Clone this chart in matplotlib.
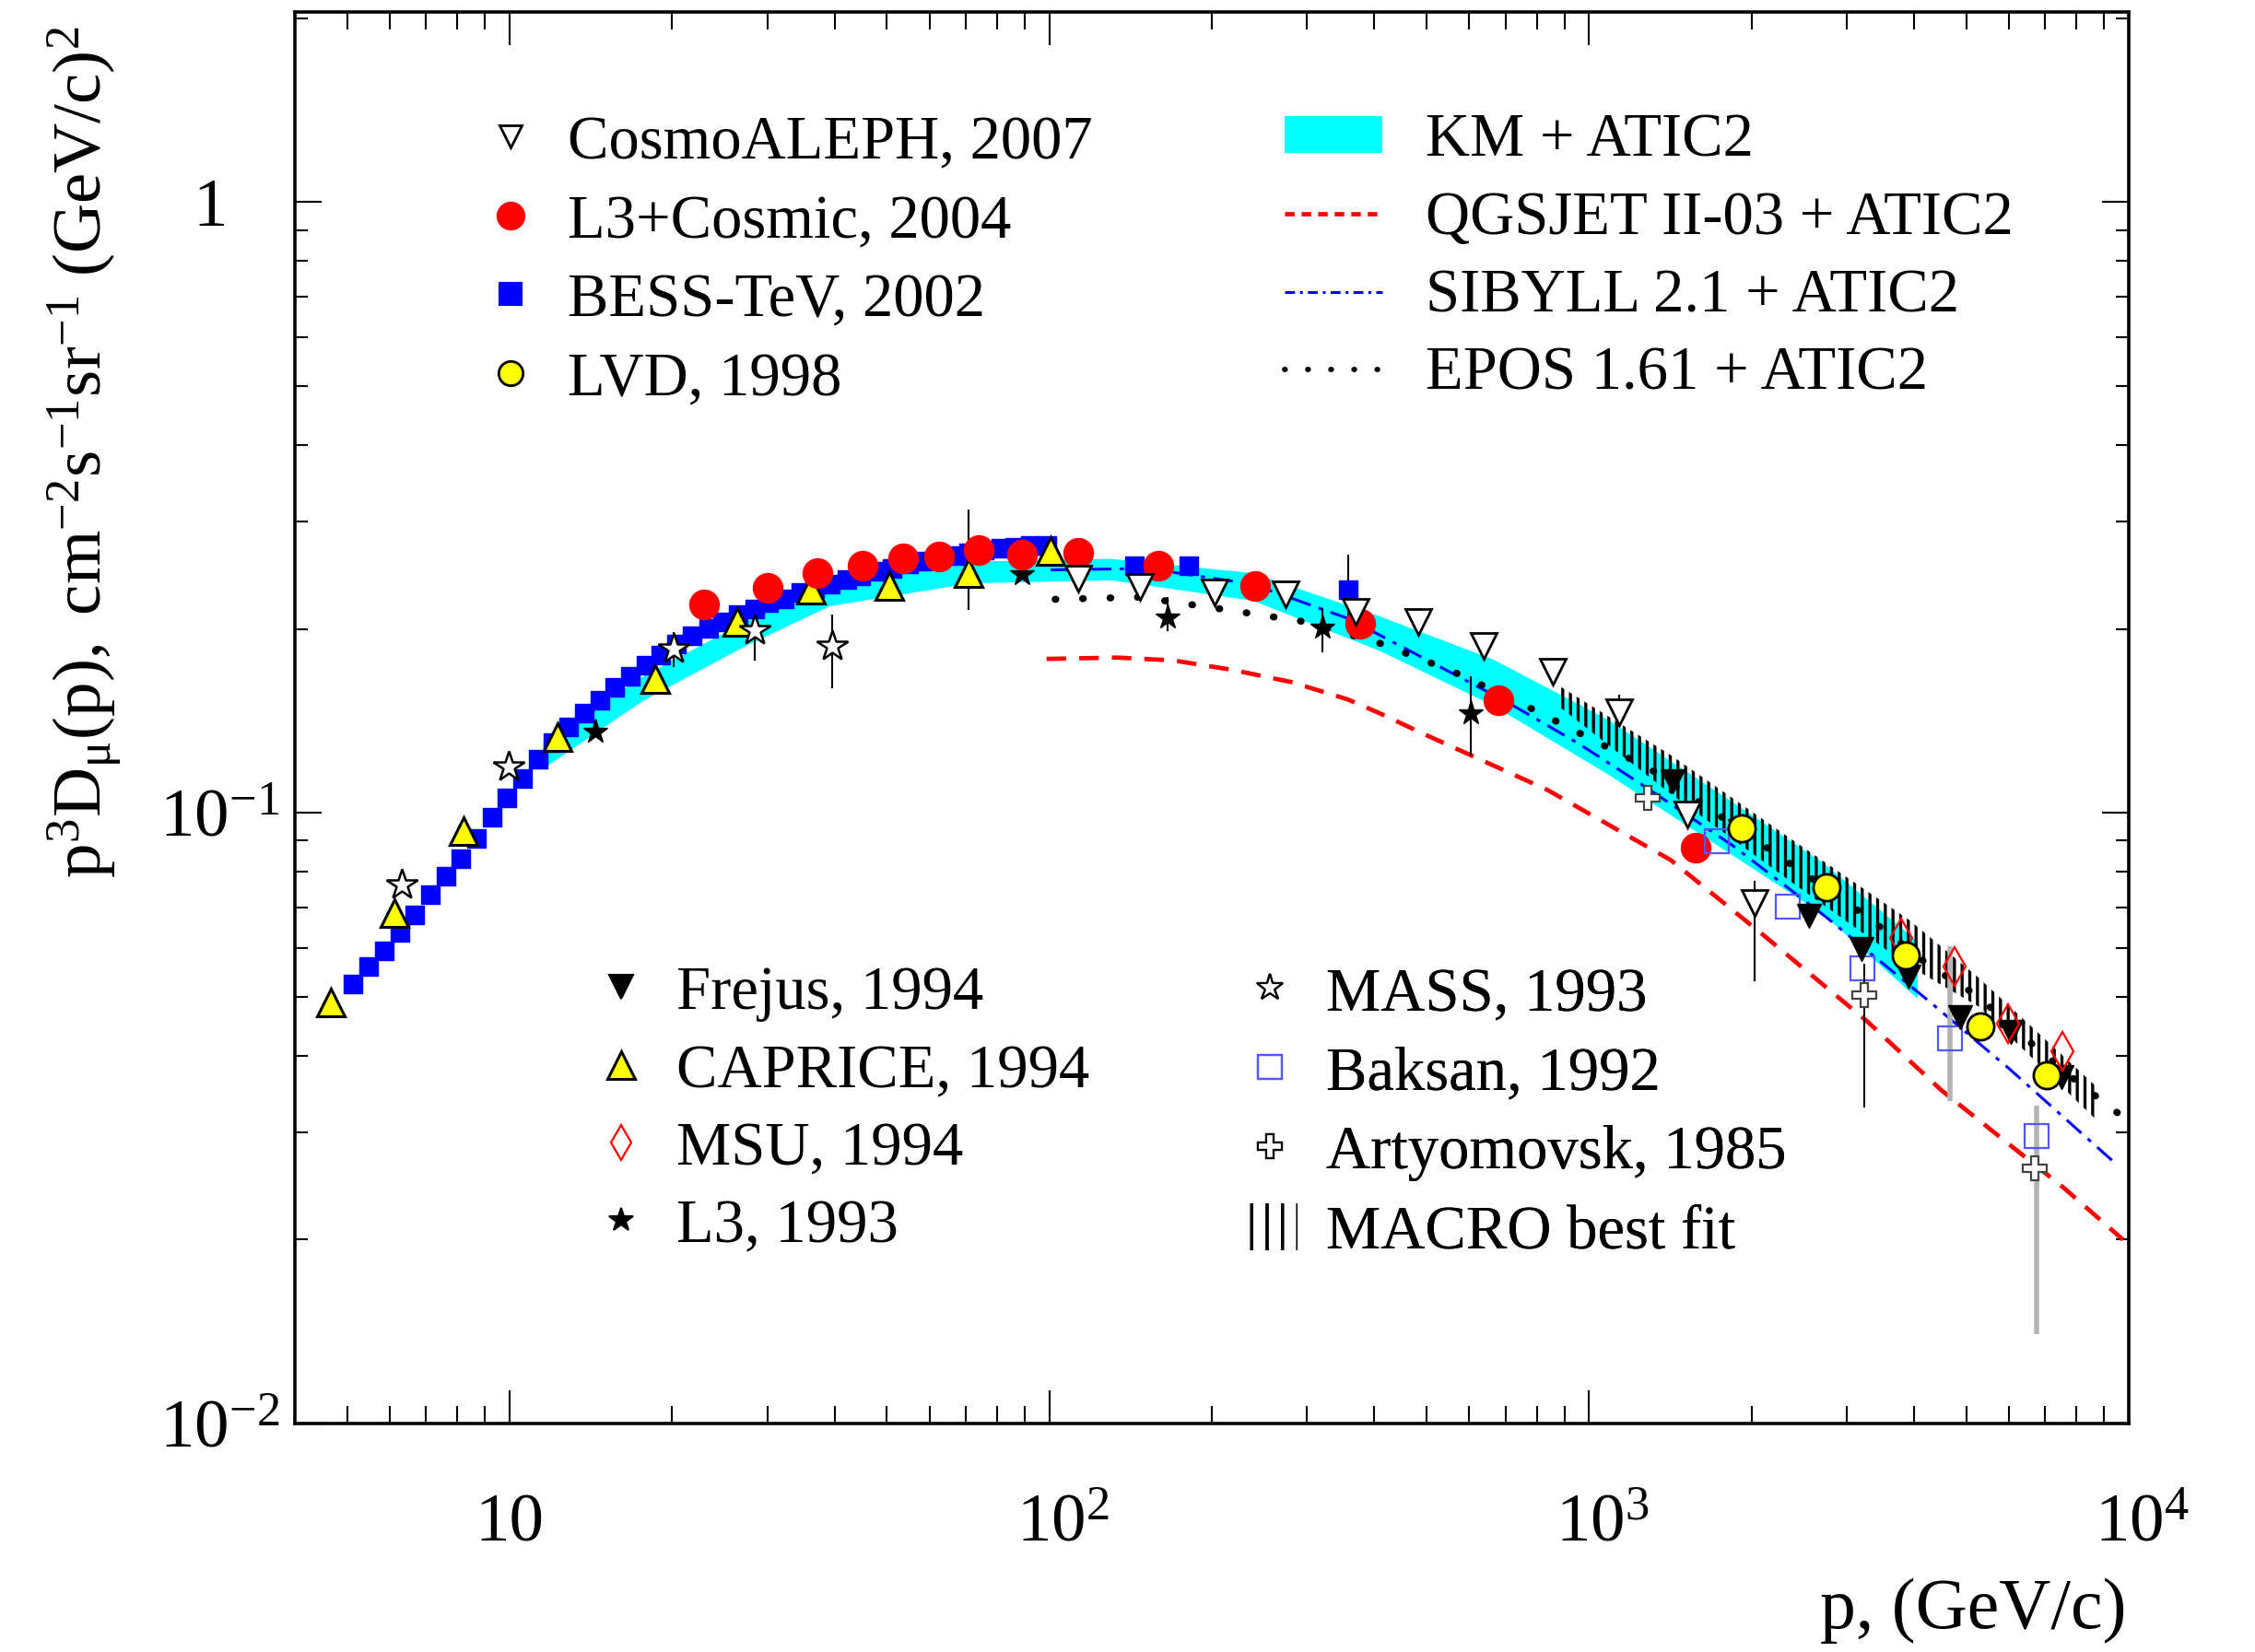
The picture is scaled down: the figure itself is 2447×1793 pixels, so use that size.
import matplotlib
matplotlib.use("Agg")
import matplotlib.pyplot as plt
from matplotlib.lines import Line2D
from matplotlib.patches import Patch
from matplotlib.ticker import FixedLocator, LogLocator, NullFormatter
import matplotlib.transforms as mtrans

plt.rcParams['font.family'] = ['Liberation Serif', 'DejaVu Serif']
plt.rcParams['mathtext.fontset'] = 'custom'
plt.rcParams['mathtext.rm'] = 'Liberation Serif'
plt.rcParams['mathtext.it'] = 'Liberation Serif:italic'
plt.rcParams['mathtext.default'] = 'regular'
plt.rcParams['hatch.linewidth'] = 2.4

# ---- data (p in GeV/c, p^3 D(p) in cm^-2 s^-1 sr^-1 (GeV/c)^2) ----
bess_p = [5.12, 5.48, 5.86, 6.27, 6.67, 7.14, 7.63, 8.12, 8.68, 9.29, 9.88, 10.57, 11.31, 12.02,
          12.86, 13.76, 14.72, 15.66, 16.75, 17.92, 19.05, 20.39, 21.81, 23.33, 24.81, 26.55,
          28.40, 30.20, 32.30, 34.56, 36.74, 39.33, 42.07, 44.73, 47.86, 51.20, 54.79, 58.25,
          62.34, 66.68, 70.9, 75.86, 81.16, 86.3, 92.3, 98.8, 143.7, 181.4, 357.6]
bess_v = [0.0525, 0.0560, 0.0594, 0.0638, 0.0681, 0.0734, 0.0788, 0.0841, 0.0907, 0.0984,
          0.1056, 0.1139, 0.1222, 0.1304, 0.1384, 0.1454, 0.1526, 0.1602, 0.1673, 0.1747,
          0.1815, 0.1886, 0.1948, 0.2001, 0.2056, 0.2112, 0.2158, 0.2206, 0.2242, 0.2291,
          0.2329, 0.2367, 0.2406, 0.2445, 0.2485, 0.2512, 0.2553, 0.2581, 0.2609, 0.2637,
          0.2666, 0.2695, 0.2710, 0.2724, 0.2739, 0.2739, 0.2539, 0.2539, 0.2315]

l3c_p = [22.9, 30.0, 37.2, 45.0, 53.5, 62.5, 74.0, 89.0, 113, 159.5, 240.6, 376.7, 679, 1575]
l3c_v = [0.2193, 0.2336, 0.2465, 0.2539, 0.2609, 0.2623, 0.2689, 0.2645, 0.2660, 0.2540,
         0.2353, 0.2038, 0.1526, 0.0876]

caprice_p = [4.67, 6.12, 8.22, 12.24, 18.6, 26.4, 36.1, 50.6, 70.9, 100.6]
caprice_v = [0.0489, 0.0684, 0.0932, 0.1332, 0.1655, 0.2055, 0.2316, 0.2354, 0.2472, 0.2681]
caprice_lo = [0, 0, 0, 0, 0, 0, 0, 0, 0.0325, 0]
caprice_hi = [0, 0, 0, 0, 0, 0, 0, 0, 0.0660, 0]

aleph_p = [113.0, 147.2, 202.6, 273.7, 369.8, 481.6, 638.8, 857.8, 1138, 1518, 2026]
aleph_v = [0.2418, 0.2340, 0.2291, 0.2278, 0.2135, 0.2050, 0.1879, 0.1703, 0.1461, 0.0992, 0.0711]
aleph_lo = [0, 0, 0, 0, 0, 0, 0, 0.006, 0.008, 0.004, 0.0181]
aleph_hi = [0, 0, 0, 0, 0, 0, 0, 0.008, 0.010, 0.004, 0.0064]

lvd_p = [1917, 2754, 3861, 5314, 7047]
lvd_v = [0.0944, 0.0754, 0.0583, 0.0447, 0.0372]

frejus_p = [1428, 1905, 2559, 3192, 3908, 4875, 6043, 7493]
frejus_v = [0.1126, 0.0932, 0.0679, 0.0598, 0.0539, 0.0463, 0.0437, 0.0369]

msu_p = [3791, 4757, 5970, 7539]
msu_v = [0.0624, 0.0560, 0.0451, 0.0407]

l3_p = [14.41, 89.0, 165.5, 321.1, 604.4]
l3_v = [0.1358, 0.2458, 0.2089, 0.2014, 0.1457]
l3_lo = [0, 0, 0.0103, 0.0180, 0.0216]
l3_hi = [0, 0, 0.0166, 0.0146, 0.0216]

mass_p = [6.31, 9.94, 20.14, 28.40, 39.57]
mass_v = [0.0764, 0.1189, 0.1854, 0.1990, 0.1879]
mass_lo = [0, 0, 0.012, 0.0215, 0.0281]
mass_hi = [0, 0, 0.012, 0.0076, 0.0233]

baksan_p = [1727, 2333, 3211, 4670, 6750]
baksan_v = [0.0897, 0.0703, 0.0557, 0.0427, 0.0296]
baksan_lo = [0, 0, 0, 0.0090, 0.0156]
baksan_hi = [0, 0, 0, 0.0177, 0.0035]

artyom_p = [1286, 3231, 6709]
artyom_v = [0.1056, 0.0503, 0.0262]
artyom_lo = [0, 0.0174, 0]
artyom_hi = [0, 0.0063, 0]

# model curves
band_p = [11.52, 17.60, 27.21, 39.08, 71.34, 130.2, 237.7, 408.0, 662.5, 1083, 1770, 2720, 4055]
band_hi = [0.1304, 0.1673, 0.2056, 0.2367, 0.2581, 0.2609, 0.2472, 0.2101, 0.1786, 0.1422,
           0.1067, 0.0827, 0.0617]
band_lo = [0.1183, 0.1526, 0.1875, 0.2182, 0.2379, 0.2406, 0.2229, 0.1845, 0.1501, 0.1157,
           0.0873, 0.0681, 0.0497]

qgs_p = [98.8, 133.5, 169.6, 218.2, 280.5, 356.5, 408.0, 496.6, 836.9, 1419, 2102, 3271,
         4501, 7586, 9757]
qgs_v = [0.1786, 0.1795, 0.1776, 0.1714, 0.1637, 0.1534, 0.1457, 0.1343, 0.1090, 0.0836,
         0.0631, 0.0456, 0.0351, 0.0243, 0.0200]

sib_p = [100.6, 151.8, 237.7, 358.7, 496.6, 704.7, 957.9, 1247, 1848, 2737, 4259, 6006, 9521]
sib_v = [0.2498, 0.2512, 0.2367, 0.2078, 0.1786, 0.1518, 0.1297, 0.1115, 0.0883, 0.0677,
         0.0492, 0.0381, 0.0265]

epos_p = [102.5, 147.2, 206.4, 291.1, 402.9, 558.2, 758.6, 1302, 2001, 3251, 4259, 5217,
          6668, 8017, 9878]
epos_v = [0.2236, 0.2254, 0.2158, 0.2061, 0.1905, 0.1705, 0.1501, 0.1177, 0.0912, 0.0679,
          0.0563, 0.0503, 0.0416, 0.0363, 0.0315]

macro_p = [873.6, 1419, 2406, 3933, 5282, 8683]
macro_hi = [0.1620, 0.1242, 0.0897, 0.0666, 0.0536, 0.0357]
macro_lo = [0.1501, 0.1073, 0.0763, 0.0560, 0.0481, 0.0315]

xtick_vals = [10, 100, 1000, 10000]
xtick_labels = ['10', '$10^{2}$', '$10^{3}$', '$10^{4}$']
ytick_vals = [0.01, 0.1, 1]
ytick_labels = ['$10^{-2}$', '$10^{-1}$', '1   ']

CYAN = '#00ffff'
FS_LEG = 48
FS_TICK = 54

fig = plt.figure(figsize=(24.47, 17.93), dpi=100)
ax = fig.add_axes([0.1308, 0.1383, 0.8132, 0.8547])
ax.set_xscale('log')
ax.set_yscale('log')
ax.set_xlim(4, 1e4)
ax.set_ylim(0.01, 2.05)

ax.fill_between(band_p, band_lo, band_hi, color=CYAN, lw=0, zorder=1)
ax.fill_between(macro_p, macro_lo, macro_hi, facecolor='none', edgecolor='black',
                hatch='||', lw=0, zorder=2)

ax.plot(qgs_p, qgs_v, color='red', ls=(0, (4.5, 3)), lw=3.4, zorder=3)
ax.plot(sib_p, sib_v, color='blue', ls=(0, (7, 3, 1.5, 3)), lw=2.2, zorder=3)
ax.plot(epos_p, epos_v, color='black', ls=(0, (0.1, 3.8)), lw=5.5, zorder=3,
        dash_capstyle='round')

eb = dict(fmt='none', ecolor='black', elinewidth=1.5, capsize=0)
ax.errorbar(bess_p[-1:], bess_v[-1:], yerr=[[0.03], [0.033]], zorder=4, **eb)
ax.plot(bess_p, bess_v, ls='none', marker='s', ms=15, color='blue', mec='blue', zorder=4)

ax.errorbar(caprice_p, caprice_v, yerr=[caprice_lo, caprice_hi], zorder=5, **eb)
ax.plot(caprice_p, caprice_v, ls='none', marker='^', ms=21, mfc='yellow', mec='black',
        mew=2.2, zorder=5)

ax.errorbar(mass_p, mass_v, yerr=[mass_lo, mass_hi], zorder=5, **eb)
ax.plot(mass_p, mass_v, ls='none', marker='*', ms=25, mfc='white', mec='black',
        mew=1.8, zorder=5)

ax.errorbar(l3_p, l3_v, yerr=[l3_lo, l3_hi], zorder=5, **eb)
ax.plot(l3_p, l3_v, ls='none', marker='*', ms=20, color='black', zorder=5)

ax.plot(l3c_p, l3c_v, ls='none', marker='o', ms=23, color='red', mec='red', zorder=6)

ax.errorbar(aleph_p, aleph_v, yerr=[aleph_lo, aleph_hi], zorder=6, **eb)
ax.plot(aleph_p, aleph_v, ls='none', marker='v', ms=20, mfc='white', mec='black',
        mew=2, zorder=6)

ax.errorbar(baksan_p, baksan_v, yerr=[baksan_lo, baksan_hi], fmt='none', ecolor='#b4b4b4',
            elinewidth=4, capsize=0, zorder=5)
ax.plot(baksan_p, baksan_v, ls='none', marker='s', ms=19, mfc='none', mec='#5555ff',
        mew=1.6, zorder=6)

ax.errorbar(artyom_p, artyom_v, yerr=[artyom_lo, artyom_hi], zorder=6, **eb)
ax.plot(artyom_p, artyom_v, ls='none', marker='P', ms=19, mfc='white', mec='#444444',
        mew=1.6, zorder=6)

ax.plot(frejus_p, frejus_v, ls='none', marker='v', ms=19, color='black', zorder=6)
ax.plot(msu_p, msu_v, ls='none', marker='d', ms=21, mfc='none', mec='red', mew=1.6, zorder=7)
ax.plot(lvd_p, lvd_v, ls='none', marker='o', ms=21, mfc='yellow', mec='black', mew=2,
        zorder=7)

# axes cosmetics (ROOT-like)
for s in ax.spines.values():
    s.set_linewidth(2.6)
ax.xaxis.set_major_locator(FixedLocator(xtick_vals))
ax.yaxis.set_major_locator(FixedLocator(ytick_vals))
ax.xaxis.set_minor_locator(LogLocator(base=10, subs=range(2, 10), numticks=20))
ax.yaxis.set_minor_locator(LogLocator(base=10, subs=range(2, 10), numticks=20))
ax.xaxis.set_minor_formatter(NullFormatter())
ax.yaxis.set_minor_formatter(NullFormatter())
ax.set_xticklabels(xtick_labels, fontsize=FS_TICK, va='baseline')
ax.set_yticklabels(ytick_labels, fontsize=FS_TICK, va='baseline')
ax.tick_params(which='both', direction='in', top=True, right=True, width=1.5)
ax.tick_params(axis='x', which='major', length=26, pad=92)
ax.tick_params(axis='x', which='minor', length=14)
ax.tick_params(axis='y', which='major', length=21, pad=12)
ax.tick_params(axis='y', which='minor', length=10)

down = mtrans.ScaledTranslation(0, -0.338 * FS_TICK / 72, fig.dpi_scale_trans)
for lbl in ax.get_yticklabels():
    lbl.set_transform(lbl.get_transform() + down)
right = mtrans.ScaledTranslation(0.2 * FS_TICK / 72, 0, fig.dpi_scale_trans)
for lbl in ax.get_xticklabels()[1:]:
    lbl.set_transform(lbl.get_transform() + right)

ax.set_ylabel(r'$p^{3}D_{\mu}(p),\ cm^{-2}s^{-1}sr^{-1}\ (GeV/c)^{2}$', fontsize=54, loc='top')
ax.yaxis.set_label_coords(-0.094, 0.99)
ax.set_xlabel('p, (GeV/c)', fontsize=56, loc='right')
ax.xaxis.set_label_coords(0.999, -0.109)


def add_leg(handles, labels, x, y, hl, hh, pad, spacing):
    leg = ax.legend(handles, labels, loc='upper left', bbox_to_anchor=(x, y), frameon=False,
                    fontsize=FS_LEG, handlelength=hl, handleheight=hh, handletextpad=pad,
                    labelspacing=spacing, borderpad=0, borderaxespad=0, numpoints=1)
    ax.add_artist(leg)


def mk(marker, ms, mfc, mec, mew=1.5):
    return Line2D([], [], ls='none', marker=marker, ms=ms, mfc=mfc, mec=mec, mew=mew)


add_leg([mk('v', 17, 'white', 'black', 2), mk('o', 21, 'red', 'red'),
         mk('s', 17, 'blue', 'blue'), mk('o', 19, 'yellow', 'black', 2)],
        ['CosmoALEPH, 2007', 'L3+Cosmic, 2004', 'BESS-TeV, 2002', 'LVD, 1998'],
        0.104, 0.927, 0.8, 0.7, 0.54, 0.37)

add_leg([Patch(facecolor=CYAN, edgecolor='none'),
         Line2D([], [], color='red', ls=(0, (2.2, 1.6)), lw=3.4),
         Line2D([], [], color='blue', ls=(0, (3.5, 1.8, 1, 1.8)), lw=2.2),
         Line2D([], [], color='black', ls=(0, (0.1, 4.2)), lw=4.2, dash_capstyle='round')],
        ['KM + ATIC2', 'QGSJET II-03 + ATIC2', 'SIBYLL 2.1 + ATIC2', 'EPOS 1.61 + ATIC2'],
        0.5395, 0.928, 1.6, 0.55, 0.7, 0.35)

add_leg([mk('v', 19, 'black', 'black'), mk('^', 21, 'yellow', 'black', 2.2),
         mk('d', 19, 'none', 'red', 1.6), mk('*', 19, 'black', 'black')],
        ['Frejus, 1994', 'CAPRICE, 1994', 'MSU, 1994', 'L3, 1993'],
        0.1643, 0.3245, 0.8, 0.7, 0.5, 0.35)

add_leg([mk('*', 21, 'white', 'black', 1.6), mk('s', 19, 'none', '#5555ff', 1.6),
         mk('P', 19, 'white', 'black', 1.6),
         Patch(facecolor='none', edgecolor='black', hatch='|', lw=0)],
        ['MASS, 1993', 'Baksan, 1992', 'Artyomovsk, 1985', 'MACRO best fit'],
        0.5166, 0.3245, 0.9, 0.8, 0.46, 0.35)

fig.savefig('out.png', dpi=100)
